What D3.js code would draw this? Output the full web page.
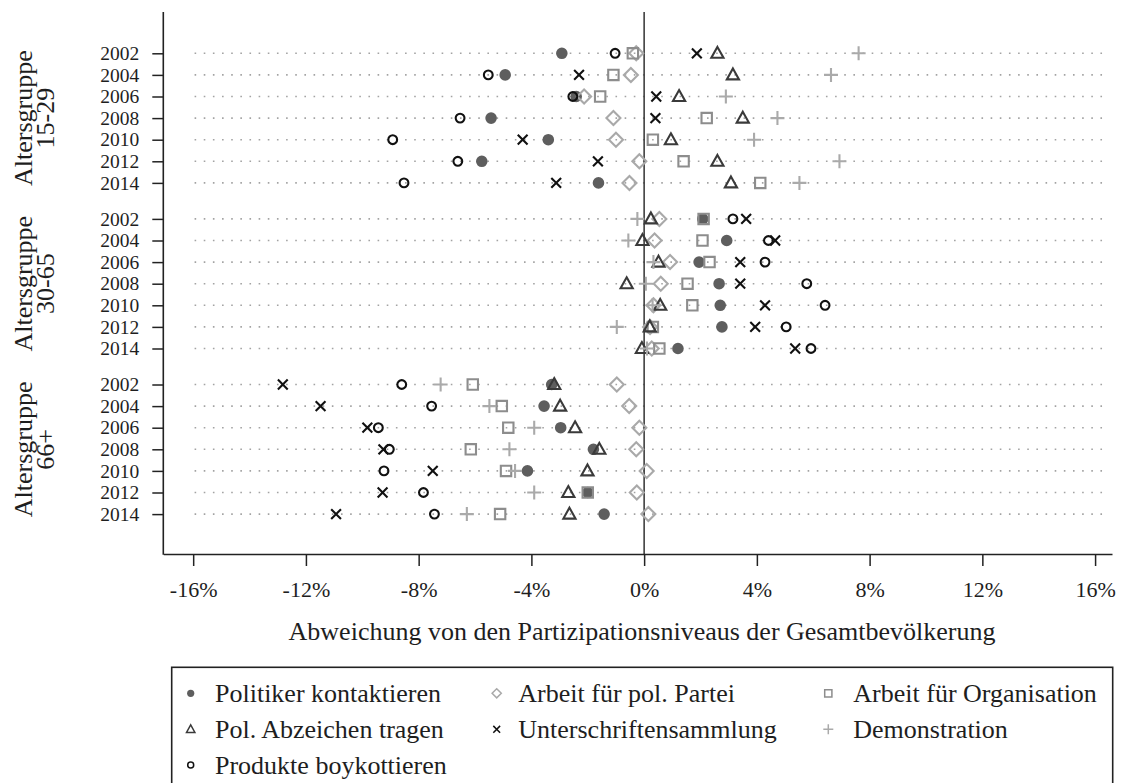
<!DOCTYPE html>
<html><head><meta charset="utf-8">
<script src="https://cdn.jsdelivr.net/npm/d3@7"></script>
<style>
body{margin:0;background:#fff}
svg{display:block}
text{font-family:"Liberation Serif","Times New Roman",serif;fill:#1e1e1e}
</style>
</head><body>
<svg id="c" width="1121" height="783"></svg>
<script>
// ---------- data ----------
const groups = ["15-29", "30-65", "66+"];
const years = ["2002", "2004", "2006", "2008", "2010", "2012", "2014"];
const xTicks = [-16, -12, -8, -4, 0, 4, 8, 12, 16];
const xTitle = "Abweichung von den Partizipationsniveaus der Gesamtbevölkerung";
const groupPrefix = "Altersgruppe";

// values in %, order: group 15-29 (2002..2014), 30-65 (2002..2014), 66+ (2002..2014)
const politiker    = [-2.92,-4.93,-2.41,-5.43,-3.40,-5.76,-1.62,  2.08,2.93,1.95,2.66,2.70,2.76,1.20,  -3.28,-3.55,-2.96,-1.80,-4.14,-2.00,-1.42];
const partei       = [-0.28,-0.47,-2.13,-1.09,-1.00,-0.17,-0.52,  0.54,0.37,0.92,0.59,0.33,0.21,0.27,  -0.97,-0.53,-0.17,-0.28,0.09,-0.26,0.15];
const organisation = [-0.40,-1.09,-1.56,2.22,0.31,1.40,4.12,     2.11,2.07,2.32,1.54,1.71,0.31,0.54,  -6.08,-5.05,-4.82,-6.15,-4.90,-2.00,-5.11];
const abzeichen    = [2.60,3.15,1.24,3.50,0.95,2.60,3.08,        0.24,-0.06,0.51,-0.62,0.57,0.20,-0.08, -3.19,-2.98,-2.45,-1.59,-2.01,-2.69,-2.65];
const unterschrift = [1.87,-2.31,0.43,0.40,-4.31,-1.64,-3.12,    3.62,4.65,3.41,3.41,4.29,3.94,5.36,  -12.82,-11.48,-9.82,-9.25,-7.50,-9.28,-10.93];
const demonstration= [7.61,6.63,2.90,4.73,3.90,6.93,5.51,        -0.24,-0.56,0.33,0.06,0.30,-0.97,0.10, -7.22,-5.49,-3.90,-4.78,-4.58,-3.90,-6.29];
const boykott      = [-1.03,-5.53,-2.53,-6.53,-8.92,-6.61,-8.52, 3.15,4.41,4.29,5.77,6.42,5.04,5.92,  -8.60,-7.54,-9.43,-9.04,-9.23,-7.83,-7.44];

const seriesNames = ["Politiker kontaktieren","Arbeit für pol. Partei","Arbeit für Organisation",
  "Pol. Abzeichen tragen","Unterschriftensammlung","Demonstration","Produkte boykottieren"];
const seriesValues = [politiker, partei, organisation, abzeichen, unterschrift, demonstration, boykott];

// ---------- styles ----------
const styles = [
  {shape:"fcircle", color:"#5e5e5e", s:5.8, ls:3.6},
  {shape:"diamond", color:"#a9a9a9", s:7.0, ls:4.6},
  {shape:"square",  color:"#8d8d8d", s:5.2, ls:3.6},
  {shape:"triangle",color:"#3a3a3a", s:6.4, ls:4.4},
  {shape:"x",       color:"#111111", s:4.9, ls:3.4},
  {shape:"plus",    color:"#aaaaaa", s:7.0, ls:5.0},
  {shape:"ocircle", color:"#111111", s:4.4, ls:3.0}
];

function markerPath(shape, s){
  switch(shape){
    case "fcircle": case "ocircle":
      return `M${s},0A${s},${s} 0 1,1 ${-s},0A${s},${s} 0 1,1 ${s},0Z`;
    case "diamond": return `M0,${-s}L${s},0L0,${s}L${-s},0Z`;
    case "square": return `M${-s},${-s}H${s}V${s}H${-s}Z`;
    case "triangle": return `M0,${-s}L${s*0.95},${s*0.7}L${-s*0.95},${s*0.7}Z`;
    case "x": return `M${-s},${-s}L${s},${s}M${-s},${s}L${s},${-s}`;
    case "plus": return `M${-s},0H${s}M0,${-s}V${s}`;
  }
}
function applyStyle(sel, st, legend){
  const sw = legend ? 1.5 : 2.1;
  if(st.shape==="fcircle") sel.attr("fill", st.color).attr("stroke","none");
  else sel.attr("fill","none").attr("stroke", st.color).attr("stroke-width", sw);
}

// ---------- layout ----------
const svg = d3.select("#c");
const plot = {left:163.3, right:1112, top:12, bottom:554};

const x = d3.scaleLinear().domain([-17.06, 16.6]).range([plot.left, plot.right]);

const groupStride = 7.667;
const rows = [];
groups.forEach((g, gi) => years.forEach((yr, yi) => rows.push({g, gi, yr, yi, key: g + "|" + yr, pos: gi*groupStride + yi})));
const yLin = d3.scaleLinear().domain([0, 2*groupStride + 6]).range([53.3, 514.1]);
const y = d3.scaleOrdinal().domain(rows.map(r => r.key)).range(rows.map(r => yLin(r.pos)));

// dotted row lines
svg.append("g").selectAll("line").data(rows).join("line")
  .attr("x1", x(-15.95)).attr("x2", x(16.3))
  .attr("y1", d => y(d.key)).attr("y2", d => y(d.key))
  .attr("stroke", "#a3a3a3").attr("stroke-width", 1.6)
  .attr("stroke-dasharray", "1.6,7.55");

// zero line
svg.append("line").attr("x1", x(0)).attr("x2", x(0)).attr("y1", plot.top).attr("y2", plot.bottom)
  .attr("stroke", "#333").attr("stroke-width", 1.5);

// x axis
const xa = svg.append("g").attr("transform", `translate(0,${plot.bottom})`)
  .call(d3.axisBottom(x).tickValues(xTicks).tickFormat(d => d + "%").tickSize(12).tickSizeOuter(0).tickPadding(15));
xa.select(".domain").attr("stroke", "#222").attr("stroke-width", 1.6);
xa.selectAll(".tick line").attr("stroke", "#222").attr("stroke-width", 1.5);
xa.selectAll(".tick text").attr("font-size", 22).attr("font-family", "Liberation Serif").attr("fill", "#1e1e1e");

// y axis
const ya = svg.append("g").attr("transform", `translate(${plot.left},0)`)
  .call(d3.axisLeft(y).tickFormat(k => k.split("|")[1]).tickSize(11).tickPadding(13));
ya.select(".domain").remove();
ya.selectAll(".tick line").attr("stroke", "#222").attr("stroke-width", 1.5);
ya.selectAll(".tick text").attr("font-size", 19.5).attr("font-family", "Liberation Serif").attr("fill", "#1e1e1e");
svg.append("line").attr("x1", plot.left).attr("x2", plot.left).attr("y1", plot.top).attr("y2", plot.bottom + 0.8)
  .attr("stroke", "#222").attr("stroke-width", 1.6);

// group labels (two lines, rotated)
groups.forEach((g, gi) => {
  const ys = rows.filter(r => r.gi === gi).map(r => y(r.key));
  const cy = (ys[0] + ys[ys.length-1]) / 2;
  const t = svg.append("text").attr("transform", `translate(32,${cy}) rotate(-90)`)
    .attr("text-anchor", "middle").attr("font-size", 26);
  t.append("tspan").attr("x", 0).attr("dy", 0).text(groupPrefix);
  t.append("tspan").attr("x", 0).attr("dy", 22).text(g);
});

// x title
svg.append("text").attr("x", 642).attr("y", 640).attr("text-anchor", "middle")
  .attr("font-size", 26).text(xTitle);

// points
seriesValues.forEach((vals, si) => {
  const st = styles[si];
  const sel = svg.append("g").selectAll("path").data(rows).join("path")
    .attr("transform", (d, i) => `translate(${x(vals[i])},${y(d.key)})`)
    .attr("d", markerPath(st.shape, st.s));
  applyStyle(sel, st, false);
});

// legend
svg.append("rect").attr("x", 171.7).attr("y", 667.3).attr("width", 941).attr("height", 140)
  .attr("fill", "none").attr("stroke", "#222").attr("stroke-width", 1.6);
const colMarker = [190.7, 496.7, 828.3];
const colText = [215, 518.3, 853.3];
const rowY = [693.3, 729.3, 765];
seriesNames.forEach((name, si) => {
  const c = si % 3, r = Math.floor(si / 3);
  const st = styles[si];
  const p = svg.append("path").attr("transform", `translate(${colMarker[c]},${rowY[r]})`).attr("d", markerPath(st.shape, st.ls));
  applyStyle(p, st, true);
  svg.append("text").attr("x", colText[c]).attr("y", rowY[r]).attr("dy", "0.33em").attr("font-size", 26).text(name);
});
</script>
</body></html>
